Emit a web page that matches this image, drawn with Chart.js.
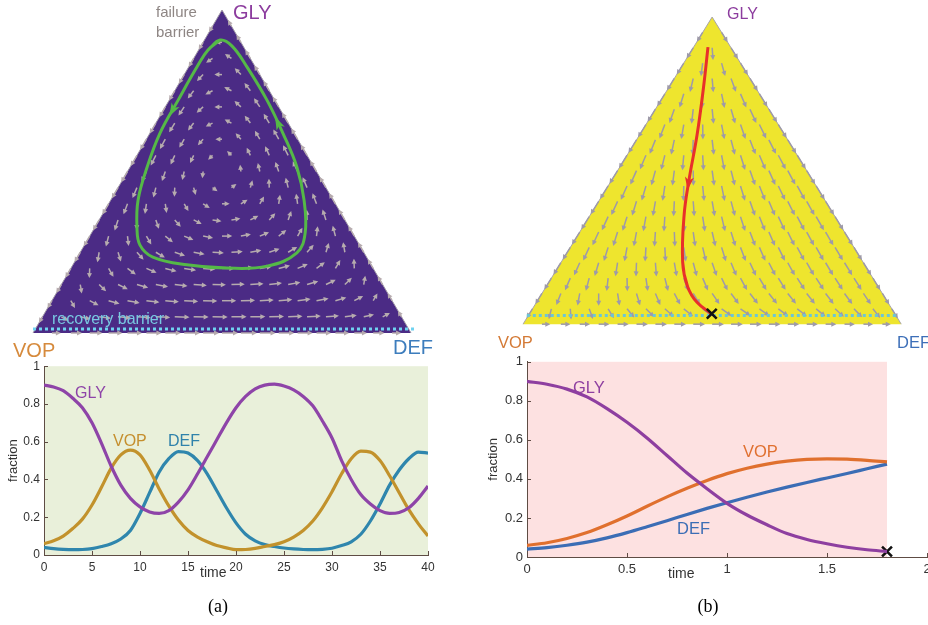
<!DOCTYPE html>
<html>
<head>
<meta charset="utf-8">
<script src="https://cdn.jsdelivr.net/npm/chart.js@4.4.1/dist/chart.umd.min.js"></script>
<style>
  body { margin: 0; background: #fff; width: 928px; height: 625px; overflow: hidden; position: relative;
         font-family: "Liberation Sans", Arial, Helvetica, sans-serif; }
  canvas { position: absolute; }
  .t { position: absolute; white-space: nowrap; line-height: 1; }
  .cap { position: absolute; font-family: "Liberation Serif", "DejaVu Serif", serif; font-size: 18px; line-height: 1; width: 40px; text-align: center; }
</style>
</head>
<body>
<canvas id="triA" width="440" height="345" style="left:0;top:0"></canvas>
<canvas id="triB" width="448" height="345" style="left:480px;top:0"></canvas>
<canvas id="lineA" width="450" height="230" style="left:0;top:355px"></canvas>
<canvas id="lineB" width="480" height="235" style="left:480px;top:350px"></canvas>

<!-- triangle labels -->
<div class="t" style="left:233px;top:2px;font-size:20px;color:#8c3c9e">GLY</div>
<div class="t" style="left:13px;top:340px;font-size:20px;color:#d68a3c">VOP</div>
<div class="t" style="left:393px;top:337px;font-size:20px;color:#3d7dbd">DEF</div>
<div class="t" style="left:156px;top:4px;font-size:15px;color:#8e8684">failure</div>
<div class="t" style="left:156px;top:24px;font-size:15px;color:#8e8684">barrier</div>
<div class="t" style="left:52px;top:311px;font-size:16px;color:#78c8e2">recovery barrier</div>

<div class="t" style="left:727px;top:6px;font-size:16px;color:#8c3c9e">GLY</div>
<div class="t" style="left:498px;top:334px;font-size:16.5px;color:#d47a36">VOP</div>
<div class="t" style="left:897px;top:334px;font-size:16.5px;color:#3d6fb8">DEF</div>

<!-- line chart labels -->
<div class="t" style="left:75px;top:385px;font-size:16px;color:#8e44a8">GLY</div>
<div class="t" style="left:113px;top:433px;font-size:16px;color:#c58f2e">VOP</div>
<div class="t" style="left:168px;top:433px;font-size:16px;color:#2f82ab">DEF</div>
<div class="t" style="left:200px;top:565px;font-size:14px;color:#333">time</div>

<div class="t" style="left:573px;top:379px;font-size:16.5px;color:#8e3fa0">GLY</div>
<div class="t" style="left:743px;top:443px;font-size:16.5px;color:#e07030">VOP</div>
<div class="t" style="left:677px;top:520px;font-size:16.5px;color:#3b6db5">DEF</div>
<div class="t" style="left:668px;top:566px;font-size:14px;color:#333">time</div>

<div class="cap" style="left:198px;top:597px">(a)</div>
<div class="cap" style="left:688px;top:597px">(b)</div>

<script>
// ---------- time series, panel (a) ----------
const timeA = [0,1,2,3,4,5,6,7,8,9,10,11,12,13,14,15,16,17,18,19,20,
               21,22,23,24,25,26,27,28,29,30,31,32,33,34,35,36,37,38,39,40];
const glyA = [0.90,0.89,0.87,0.83,0.78,0.70,0.59,0.47,0.37,0.30,0.255,0.228,0.22,0.235,0.28,0.345,0.43,0.52,0.61,0.70,0.78,
              0.84,0.88,0.90,0.905,0.895,0.875,0.84,0.79,0.71,0.62,0.50,0.40,0.32,0.27,0.235,0.22,0.225,0.25,0.30,0.365];
const vopA = [0.06,0.075,0.10,0.14,0.19,0.265,0.36,0.46,0.53,0.555,0.53,0.45,0.35,0.26,0.185,0.13,0.095,0.07,0.05,0.038,0.028,
              0.029,0.035,0.045,0.055,0.07,0.095,0.13,0.18,0.25,0.335,0.43,0.51,0.55,0.545,0.50,0.42,0.33,0.24,0.165,0.10];
const defA = [0.04,0.034,0.03,0.028,0.029,0.034,0.045,0.06,0.085,0.13,0.22,0.33,0.44,0.51,0.548,0.54,0.50,0.43,0.34,0.25,0.17,
              0.11,0.075,0.055,0.045,0.037,0.032,0.029,0.028,0.03,0.036,0.05,0.07,0.11,0.18,0.27,0.37,0.45,0.51,0.545,0.54];

// ---------- time series, panel (b) ----------
const timeB = [0,0.1,0.2,0.3,0.4,0.5,0.6,0.7,0.8,0.9,1.0,1.1,1.2,1.3,1.4,1.5,1.6,1.7,1.8];
const glyB = [0.90,0.885,0.86,0.82,0.76,0.69,0.61,0.52,0.43,0.35,0.275,0.215,0.165,0.12,0.09,0.068,0.05,0.037,0.028];
const vopB = [0.06,0.073,0.095,0.125,0.165,0.21,0.26,0.308,0.352,0.392,0.427,0.455,0.476,0.491,0.50,0.503,0.501,0.495,0.487];
const defB = [0.04,0.048,0.06,0.076,0.098,0.125,0.155,0.186,0.218,0.249,0.278,0.306,0.333,0.358,0.382,0.405,0.428,0.452,0.476];
const endB = [1.8, 0.028];

// ---------- simplex: x = position along base (VOP=0, DEF=1), y = GLY share ----------
const triX = [0, 0.5, 1];
const triY = [0, 1, 0];

const orbitX = [0.495,0.463,0.434,0.384,0.336,0.302,0.278,0.275,0.283,0.317,0.407,0.513,
                0.619,0.698,0.720,0.717,0.698,0.661,0.619,0.566,0.526,0.495,0.463];
const orbitY = [0.907,0.876,0.824,0.721,0.619,0.514,0.412,0.328,0.272,0.235,0.211,0.201,
                0.207,0.248,0.310,0.412,0.514,0.619,0.721,0.824,0.889,0.907,0.876];
const orbitHeads = [3.3, 17.3];

const pathX = [0.489,0.477,0.460,0.439,0.426,0.422,0.435,0.460,0.498];
const pathY = [0.902,0.769,0.615,0.471,0.357,0.203,0.123,0.071,0.034];
const pathHeads = [3.1];

const barrierAX = [0, 1.01], barrierAY = [0.012, 0.012];
const barrierBX = [0.01, 0.99], barrierBY = [0.028, 0.028];

// direction fields of the two phase portraits (GLY, VOP, DEF rates)
function rateA(g, v, d) {
  return [g * (d - v), v * (g - 2 * d), d * (2 * v - g)];
}
function rateB(g, v, d) {
  const mean = v + 1.25 * d;
  return [-g * mean, v * (1 - mean), d * (1.25 - mean)];
}

const pts = (xs, ys) => xs.map((x, i) => ({ x, y: ys[i] }));

function fieldPlugin(rate, color, pw) {
  return {
    id: 'field',
    afterDatasetDraw(chart, args) {
      if (args.index !== 0) return;
      const { ctx } = chart;
      const sx = chart.scales.x, sy = chart.scales.y;
      const kx = sx.getPixelForValue(1) - sx.getPixelForValue(0);
      const ky = sy.getPixelForValue(1) - sy.getPixelForValue(0);
      const N = 20;
      const list = [];
      let maxM = 0;
      for (let r = 0; r <= N; r++) {
        for (let k = 0; k <= N - r; k++) {
          const g = r / N, d = k / N, v = Math.max(0, 1 - g - d);
          const [dg, dv, dd] = rate(g, v, d);
          const vx = (dd + dg / 2) * kx, vy = dg * ky;
          const m = Math.hypot(vx, vy);
          if (m < 1e-9) continue;
          maxM = Math.max(maxM, m);
          list.push([sx.getPixelForValue(d + g / 2), sy.getPixelForValue(g), vx / m, vy / m, m]);
        }
      }
      ctx.save();
      ctx.strokeStyle = color;
      ctx.fillStyle = color;
      ctx.lineWidth = 1.5;
      for (const [px, py, ux, uy, m] of list) {
        const len = Math.max(5, 16 * Math.pow(m / maxM, pw));
        const ex = px + ux * len, ey = py + uy * len;
        ctx.beginPath();
        ctx.moveTo(px, py);
        ctx.lineTo(ex - ux * 2, ey - uy * 2);
        ctx.stroke();
        ctx.beginPath();
        ctx.moveTo(ex, ey);
        ctx.lineTo(ex - ux * 5 - uy * 2.5, ey - uy * 5 + ux * 2.5);
        ctx.lineTo(ex - ux * 5 + uy * 2.5, ey - uy * 5 - ux * 2.5);
        ctx.closePath();
        ctx.fill();
      }
      ctx.restore();
    }
  };
}

function headPlugin(dsIndex, where, color) {
  return {
    id: 'heads',
    afterDatasetsDraw(chart) {
      const p = chart.getDatasetMeta(dsIndex).data;
      const ctx = chart.ctx;
      ctx.save();
      ctx.fillStyle = color;
      for (const at of where) {
        const i = Math.floor(at), f = at - i;
        const a = p[i], b = p[i + 1];
        const cx = a.x + (b.x - a.x) * f, cy = a.y + (b.y - a.y) * f;
        const L = Math.hypot(b.x - a.x, b.y - a.y);
        const ux = (b.x - a.x) / L, uy = (b.y - a.y) / L;
        ctx.beginPath();
        ctx.moveTo(cx + ux * 7, cy + uy * 7);
        ctx.lineTo(cx - ux * 6 - uy * 4.5, cy - uy * 6 + ux * 4.5);
        ctx.lineTo(cx - ux * 2.5, cy - uy * 2.5);
        ctx.lineTo(cx - ux * 6 + uy * 4.5, cy - uy * 6 - ux * 4.5);
        ctx.closePath();
        ctx.fill();
      }
      ctx.restore();
    }
  };
}

function makeTriangle(id, geo, look) {
  const c = document.getElementById(id);
  const bw = geo.right - geo.left, bh = geo.base - geo.apex;
  const datasets = [
    { data: pts(triX, triY), showLine: true, fill: 'origin', backgroundColor: look.fill,
      borderColor: look.edge, borderWidth: 1, pointRadius: 0, tension: 0, order: 10 },
    { data: pts(look.barrierX, look.barrierY), showLine: true, borderColor: look.barrier,
      borderWidth: 3, borderDash: [3, 3], borderCapStyle: 'butt', pointRadius: 0, order: 5 },
    { data: pts(look.pathX, look.pathY), showLine: true, borderColor: look.path,
      borderWidth: 3, tension: 0.4, pointRadius: 0, order: 2 }
  ];
  if (look.end) {
    datasets.push({ data: [look.end], pointStyle: 'crossRot', pointRadius: 7,
      pointBorderWidth: 2.5, pointBorderColor: '#111', order: 0 });
  }
  return new Chart(c, {
    type: 'scatter',
    data: { datasets },
    options: {
      responsive: false, animation: false, events: [],
      layout: { padding: 0 },
      scales: {
        x: { display: false, min: -geo.left / bw, max: (c.width - geo.left) / bw },
        y: { display: false, min: (geo.base - c.height) / bh, max: geo.base / bh }
      },
      plugins: { legend: { display: false }, tooltip: { enabled: false } }
    },
    plugins: [fieldPlugin(look.rate, look.arrows, look.pw), headPlugin(2, look.heads, look.path)]
  });
}

makeTriangle('triA', { left: 33, right: 411, base: 333, apex: 10 }, {
  fill: '#4b2b85', edge: '#a098a6', arrows: '#b6abae', rate: rateA, pw: 0.35,
  barrierX: barrierAX, barrierY: barrierAY, barrier: '#6fd2f0',
  pathX: orbitX, pathY: orbitY, path: '#55b947', heads: orbitHeads
});

makeTriangle('triB', { left: 35, right: 430, base: 333, apex: 8 }, {
  fill: '#eee52e', edge: '#a8a4a8', arrows: '#9e9aa8', rate: rateB, pw: 0.2,
  barrierX: barrierBX, barrierY: barrierBY, barrier: '#6cc6d6',
  pathX: pathX, pathY: pathY, path: '#e8302a', heads: pathHeads,
  end: { x: 0.499, y: 0.034 }
});

// ---------- time series charts ----------
const bgPlugin = {
  id: 'bg',
  beforeDraw(chart, args, o) {
    const { ctx, chartArea: a } = chart;
    const sx = chart.scales.x;
    ctx.save();
    ctx.fillStyle = o.color;
    const x0 = sx.getPixelForValue(o.from), x1 = sx.getPixelForValue(o.to);
    ctx.fillRect(x0, a.top, x1 - x0, a.bottom - a.top);
    ctx.restore();
  }
};

const inTicks = {
  id: 'inTicks',
  afterDraw(chart, args, o) {
    const { ctx, chartArea: a } = chart;
    const sx = chart.scales.x, sy = chart.scales.y;
    ctx.save();
    ctx.strokeStyle = o.color;
    ctx.lineWidth = 1;
    ctx.beginPath();
    for (const t of sx.ticks) {
      const px = Math.round(sx.getPixelForValue(t.value)) + 0.5;
      ctx.moveTo(px, a.bottom); ctx.lineTo(px, a.bottom - 4);
    }
    for (const t of sy.ticks) {
      const py = Math.round(sy.getPixelForValue(t.value)) + 0.5;
      ctx.moveTo(a.left, py); ctx.lineTo(a.left + 4, py);
    }
    ctx.stroke();
    ctx.restore();
  }
};

const plain = v => String(Number(v.toFixed(2)));

function makeLines(id, cfg) {
  const axisColor = '#5e4c44';
  const tickFont = { family: '"Liberation Sans", Arial, sans-serif', size: cfg.font };
  const ds = cfg.series.map(s => ({
    data: pts(cfg.time, s.values), borderColor: s.color, borderWidth: 3.2,
    pointRadius: 0, cubicInterpolationMode: 'monotone', fill: false
  }));
  if (cfg.end) {
    ds.push({ data: [{ x: cfg.end[0], y: cfg.end[1] }], showLine: false, pointStyle: 'crossRot',
      pointRadius: 7, pointBorderWidth: 2.5, pointBorderColor: '#111' });
  }
  return new Chart(document.getElementById(id), {
    type: 'line',
    data: { datasets: ds },
    options: {
      responsive: false, animation: false, events: [],
      layout: { padding: { left: 0, right: cfg.padRight, top: cfg.padTop, bottom: 0 } },
      scales: {
        x: {
          type: 'linear', min: 0, max: cfg.xmax,
          ticks: { stepSize: cfg.step, color: '#333', font: tickFont, padding: 5, maxRotation: 0, callback: plain },
          grid: { display: false, drawTicks: false },
          border: { display: true, color: axisColor, width: 1 },
          afterFit(s) { s.height = cfg.xHeight; }
        },
        y: {
          min: 0, max: 1,
          ticks: { stepSize: 0.2, color: '#333', font: tickFont, padding: 4, callback: plain },
          grid: { display: false, drawTicks: false },
          border: { display: true, color: axisColor, width: 1 },
          title: { display: true, text: 'fraction', color: '#333', font: { family: tickFont.family, size: 13 }, padding: { top: 6, bottom: 2 } },
          afterFit(s) { s.width = cfg.yWidth; }
        }
      },
      plugins: {
        legend: { display: false }, tooltip: { enabled: false },
        bg: { color: cfg.bg, from: 0, to: cfg.bgTo },
        inTicks: { color: axisColor }
      }
    },
    plugins: [bgPlugin, inTicks]
  });
}

makeLines('lineA', {
  time: timeA, xmax: 40, step: 5, font: 12, bg: '#e9f0da', bgTo: 40,
  padRight: 22, padTop: 11, xHeight: 30, yWidth: 44,
  series: [
    { values: glyA, color: '#8e44a8' },
    { values: vopA, color: '#c2922c' },
    { values: defA, color: '#2f86ad' }
  ]
});

makeLines('lineB', {
  time: timeB, xmax: 2, step: 0.5, font: 13, bg: '#fde1e1', bgTo: 1.8,
  padRight: 33, padTop: 11, xHeight: 28, yWidth: 47,
  series: [
    { values: glyB, color: '#8e3fa0' },
    { values: vopB, color: '#e0702e' },
    { values: defB, color: '#3b6db5' }
  ],
  end: endB
});
</script>
</body>
</html>
